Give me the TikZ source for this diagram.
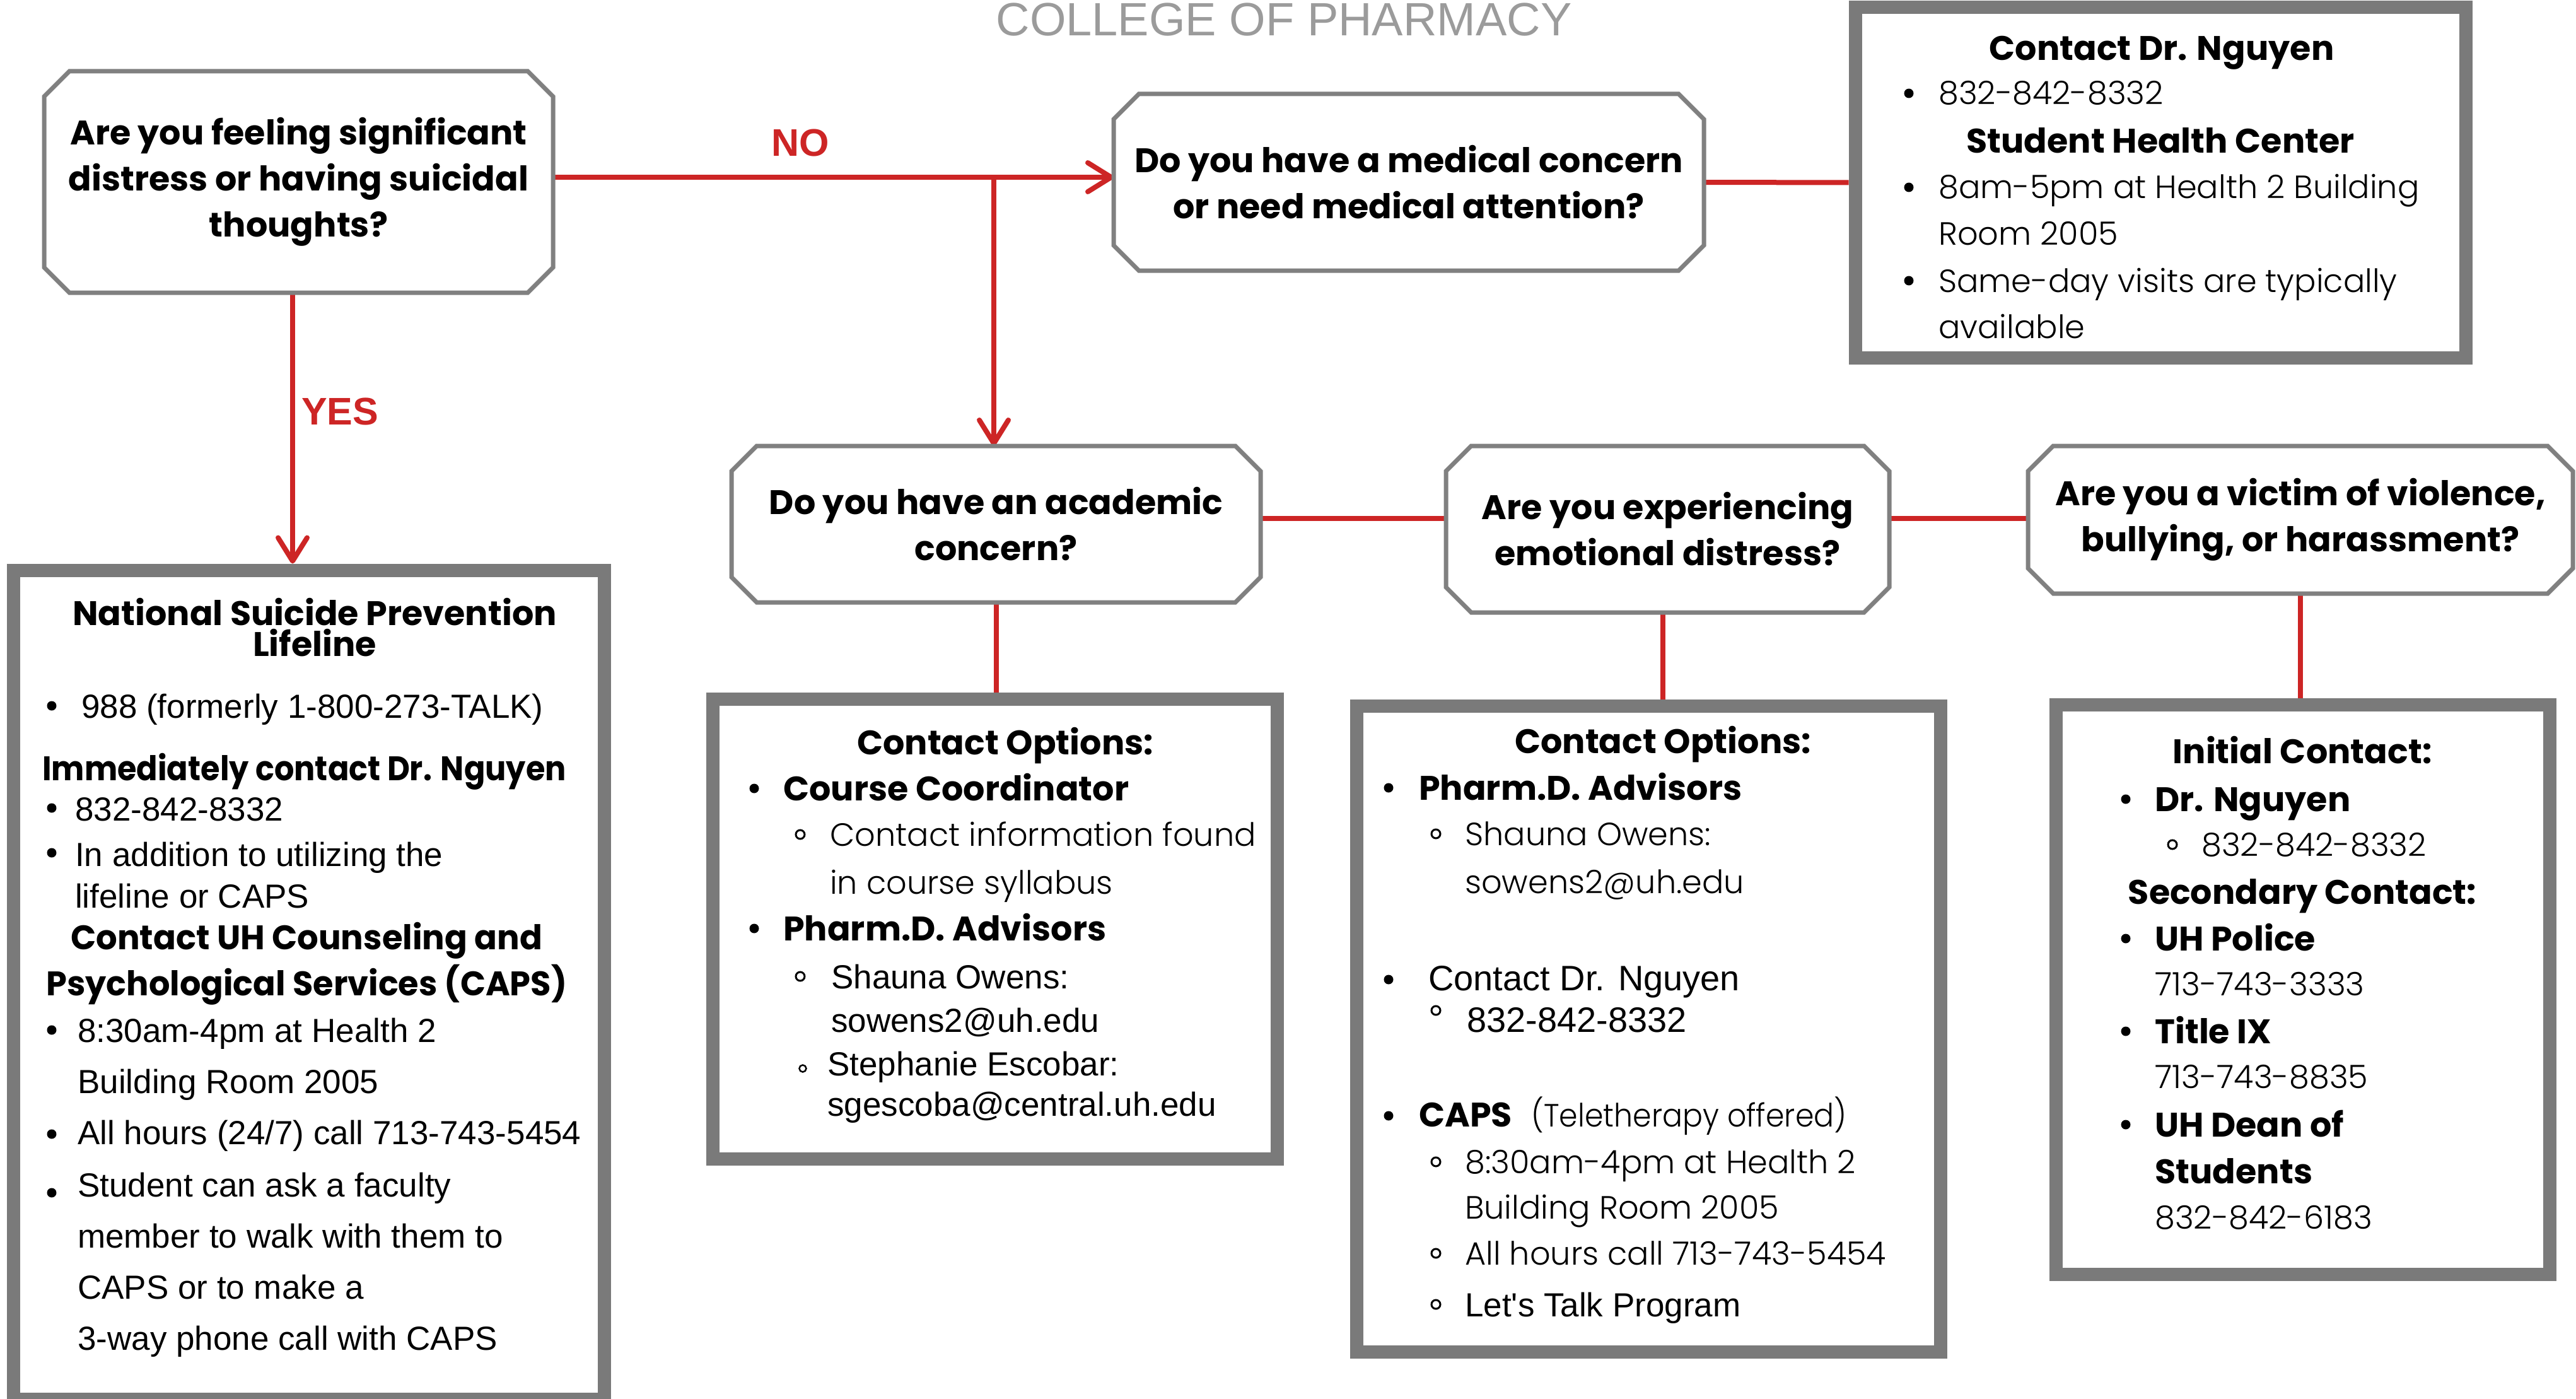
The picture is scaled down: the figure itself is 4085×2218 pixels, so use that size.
\documentclass[tikz,border=0pt]{standalone}
\usepackage{fontspec}
\usepackage{graphicx}
\setmainfont{Liberation Sans}
\newfontfamily\arf{Liberation Sans}
\newfontfamily\pop{Poppins}
\newfontfamily\poplight{Poppins Light}
\usetikzlibrary{arrows.meta}
\definecolor{cred}{RGB}{205,37,37}
\definecolor{cgray}{RGB}{122,122,122}
\definecolor{qgray}{RGB}{128,128,128}
\definecolor{ctitle}{RGB}{155,155,155}
\newcommand{\mybul}[1]{\fill (#1) circle (7.5pt);}
\newcommand{\myring}[1]{\draw[line width=3pt] (#1) circle (7pt);}
\newcommand{\chamf}[1]{\draw[qline] ([xshift=40pt]#1.north west) -- ([xshift=-40pt]#1.north east) -- ([yshift=-40pt]#1.north east) -- ([yshift=40pt]#1.south east) -- ([xshift=-40pt]#1.south east) -- ([xshift=40pt]#1.south west) -- ([yshift=40pt]#1.south west) -- ([yshift=-40pt]#1.north west) -- cycle;}
\begin{document}
\begin{tikzpicture}[x=1pt,y=-1pt,
  qline/.style={draw=qgray,line width=7pt,line join=miter},
  qnode/.style={inner sep=0pt,outer sep=0pt,align=center,font=\pop\bfseries\fontsize{54}{73}\selectfont},
  cbox/.style={draw=cgray,line width=21pt,outer sep=10.5pt,inner sep=0pt},
  hb/.style={inner sep=0pt,font=\pop\bfseries\fontsize{54}{60}\selectfont},
  lt/.style={inner sep=0pt,font=\poplight\fontsize{51}{60}\selectfont},
  ar/.style={inner sep=0pt,font=\arf\fontsize{53}{60}\selectfont},
  arb/.style={inner sep=0pt,font=\arf\fontsize{56}{60}\selectfont},
  bl/.style={anchor=base west},
  bc/.style={anchor=base},
  conn/.style={draw=cred,line width=8pt},
  arr/.style={conn,-{Straight Barb[length=37pt,width=46pt,line cap=round,line join=round]}},
  lab/.style={inner sep=0pt,text=cred,font=\arf\bfseries\fontsize{61}{61}\selectfont}
]
\useasboundingbox (0,0) rectangle (4085,2218);
\clip (0,0) rectangle (4085,2218);

% title
\node[inner sep=0pt,anchor=base,text=ctitle,font=\arf\fontsize{74}{80}\selectfont] (title) at (2036,57) {COLLEGE OF PHARMACY};

% question boxes (text + geometry)
\node[qnode,minimum width=807pt,minimum height=351pt] (q1) at (473.5,288.5) {Are you feeling significant\\distress or having suicidal\\thoughts?};
\node[qnode,minimum width=936pt,minimum height=280pt] (q2) at (2234,289) {Do you have a medical concern\\or need medical attention?};
\node[qnode,minimum width=839pt,minimum height=248pt] (q3) at (1579.5,831) {Do you have an academic\\concern?};
\node[qnode,minimum width=703pt,minimum height=264pt] (q4) at (2644.5,839) {Are you experiencing\\emotional distress?};
\node[qnode,minimum width=864pt,minimum height=234pt] (q5) at (3648,824) {Are you a victim of violence,\\bullying, or harassment?};

% contact boxes
\node[cbox,minimum width=968pt,minimum height=555pt] (cb1) at (3426,289.5) {};
\node[cbox,minimum width=937pt,minimum height=1314pt] (cb0) at (489.5,1561) {};
\node[cbox,minimum width=895pt,minimum height=729pt] (cb2) at (1577.5,1472.5) {};
\node[cbox,minimum width=926pt,minimum height=1024pt] (cb3) at (2614,1631) {};
\node[cbox,minimum width=783pt,minimum height=903pt] (cb4) at (3651.5,1568.5) {};

% connectors
\coordinate (nob) at (1576,281);
\coordinate (yesx) at (464,0);
\coordinate (hy) at (0,822);
\draw[arr] (q1.east |- nob) -- (q2.west |- nob);
\draw[arr] (nob) -- (nob |- q3.north);
\draw[arr] (q1.south -| yesx) -- (yesx |- cb0.north);
\draw[conn] (q2.east) -- (cb1.west);
\draw[conn] (q3.south) -- (q3.south |- cb2.north);
\draw[conn] (q3.east |- hy) -- (q4.west |- hy);
\draw[conn] (q4.east |- hy) -- (q5.west |- hy);
\draw[conn] ([xshift=-8pt]q4.south) -- ([xshift=-8pt]q4.south |- cb3.north);
\draw[conn] (q5.south) -- (q5.south |- cb4.north);
\node[lab,bc] (no) at (1269,248) {NO};
\node[lab,bl] (yes) at (478,673) {YES};

\chamf{q1}
\chamf{q2}
\chamf{q3}
\chamf{q4}
\chamf{q5}

% top right box
\node[hb,bc] (c1a) at (3428,96) {Contact Dr. Nguyen};
\mybul{3027,148}
\node[lt,bl] (c1b) at (3074,166) {832-842-8332};
\node[hb,bc] (c1c) at (3426,243) {Student Health Center};
\mybul{3027,297}
\node[lt,bl] (c1d) at (3074,315) {8am-5pm at Health 2 Building};
\node[lt,bl] (c1e) at (3074,388) {Room 2005};
\mybul{3027,445}
\node[lt,bl] (c1f) at (3074,463) {Same-day visits are typically};
\node[lt,bl] (c1g) at (3074,536) {available};

% left box
\node[hb,bc] (c0a) at (499,991) {National Suicide Prevention};
\node[hb,bc] (c0b) at (499,1040) {Lifeline};
\mybul{82,1119}
\node[ar,bl] (c0c) at (129,1138) {988 (formerly 1-800-273-TALK)};
\node[hb,bl] (c0d) at (67,1237) {\scalebox{0.915}[1]{Immediately contact Dr. Nguyen}};
\mybul{82,1281}
\node[ar,bl] (c0e) at (119,1301) {832-842-8332};
\mybul{82,1352}
\node[ar,bl] (c0f) at (119,1373) {In addition to utilizing the};
\node[ar,bl] (c0g) at (119,1439) {lifeline or CAPS};
\node[hb,bl] (c0h) at (112,1505) {\scalebox{0.98}[1]{Contact UH Counseling and}};
\node[hb,bl] (c0i) at (73,1578) {\scalebox{0.975}[1]{Psychological Services (CAPS)}};
\mybul{82,1633}
\node[ar,bl] (c0j) at (123,1652) {8:30am-4pm at Health 2};
\node[ar,bl] (c0k) at (123,1733) {Building Room 2005};
\mybul{82,1798}
\node[ar,bl] (c0l) at (123,1814) {All hours (24/7) call 713-743-5454};
\mybul{82,1891}
\node[ar,bl] (c0m) at (123,1897) {Student can ask a faculty};
\node[ar,bl] (c0n) at (123,1978) {member to walk with them to};
\node[ar,bl] (c0o) at (123,2059) {CAPS or to make a};
\node[ar,bl] (c0p) at (123,2140) {3-way phone call with CAPS};

% academic box
\node[hb,bc] (c2a) at (1594,1196) {Contact Options:};
\mybul{1196,1250}
\node[hb,bl] (c2b) at (1242,1269) {Course Coordinator};
\myring{1269,1323}
\node[lt,bl] (c2c) at (1316,1341) {Contact information found};
\node[lt,bl] (c2d) at (1316,1417) {in course syllabus};
\mybul{1196,1472}
\node[hb,bl] (c2e) at (1242,1491) {Pharm.D. Advisors};
\myring{1269,1548}
\node[ar,bl] (c2f) at (1318,1567) {Shauna Owens:};
\node[ar,bl] (c2g) at (1318,1636) {sowens2@uh.edu};
\draw[line width=2.5pt] (1273,1694) circle (5.5pt);
\node[ar,bl] (c2h) at (1312,1705) {Stephanie Escobar:};
\node[ar,bl] (c2i) at (1312,1769) {sgescoba@central.uh.edu};

% emotional box
\node[hb,bc] (c3a) at (2637,1194) {Contact Options:};
\mybul{2202,1249}
\node[hb,bl] (c3b) at (2250,1268) {Pharm.D. Advisors};
\myring{2277,1322}
\node[lt,bl] (c3c) at (2323,1340) {Shauna Owens:};
\node[lt,bl] (c3d) at (2323,1416) {sowens2@uh.edu};
\mybul{2202,1553}
\node[arb,bl] (c3e) at (2265,1570) {Contact Dr. Nguyen};
\myring{2277,1602}
\node[arb,bl] (c3f) at (2326,1636) {832-842-8332};
\mybul{2202,1769}
\node[hb,bl] (c3g) at (2250,1786) {CAPS};
\node[lt,bl] (c3h) at (2428,1786) {\scalebox{0.93}[1]{(Teletherapy offered)}};
\myring{2277,1842}
\node[lt,bl] (c3i) at (2323,1860) {8:30am-4pm at Health 2};
\node[lt,bl] (c3j) at (2323,1932) {Building Room 2005};
\myring{2277,1987}
\node[lt,bl] (c3k) at (2323,2005) {All hours call 713-743-5454};
\myring{2277,2068}
\node[ar,bl] (c3l) at (2323,2087) {Let's Talk Program};

% violence box
\node[hb,bc] (c4a) at (3651,1210) {Initial Contact:};
\mybul{3371,1267}
\node[hb,bl] (c4b) at (3417,1286) {Dr. Nguyen};
\myring{3445,1339}
\node[lt,bl] (c4c) at (3491,1357) {832-842-8332};
\node[hb,bc] (c4d) at (3651,1433) {Secondary Contact:};
\mybul{3371,1488}
\node[hb,bl] (c4e) at (3417,1507) {UH Police};
\node[lt,bl] (c4f) at (3417,1578) {713-743-3333};
\mybul{3371,1635}
\node[hb,bl] (c4g) at (3417,1654) {Title IX};
\node[lt,bl] (c4h) at (3417,1725) {713-743-8835};
\mybul{3371,1783}
\node[hb,bl] (c4i) at (3417,1802) {UH Dean of};
\node[hb,bl] (c4j) at (3417,1876) {Students};
\node[lt,bl] (c4k) at (3417,1948) {832-842-6183};
\end{tikzpicture}
\end{document}
